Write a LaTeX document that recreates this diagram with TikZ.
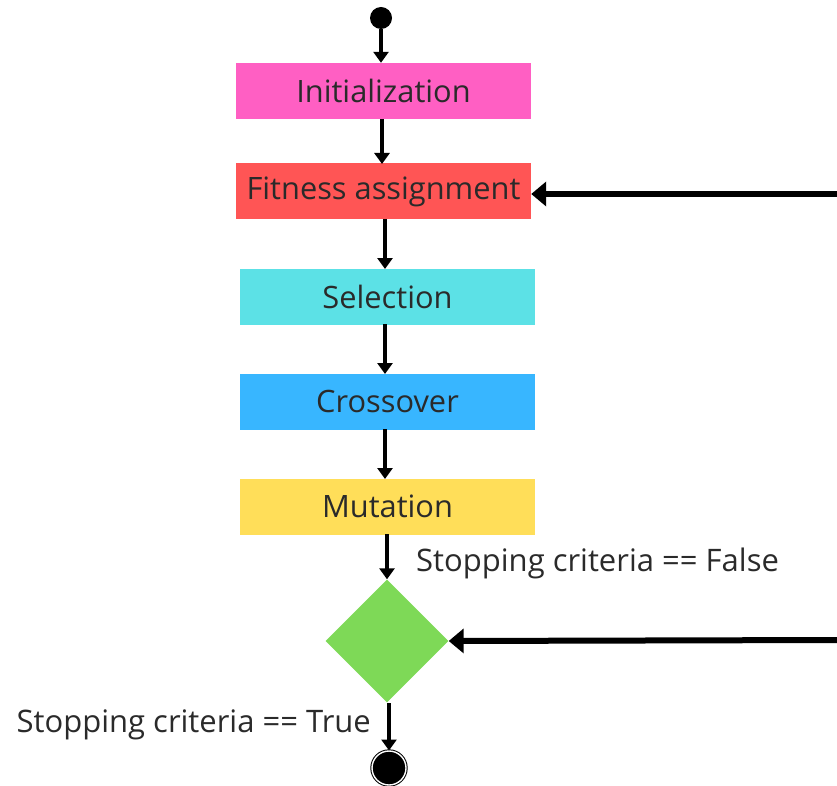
\documentclass[tikz,border=0pt]{standalone}
\usepackage{fontspec}
\setmainfont{Open Sans}
\usetikzlibrary{shapes.geometric,arrows.meta}
\definecolor{cinit}{HTML}{FF5FC3}
\definecolor{cfit}{HTML}{FF5555}
\definecolor{csel}{HTML}{5CE1E6}
\definecolor{ccross}{HTML}{38B6FF}
\definecolor{cmut}{HTML}{FFDE59}
\definecolor{cdec}{HTML}{7ED957}
\definecolor{ctext}{HTML}{2A2A2A}
\begin{document}
\begin{tikzpicture}[x=1pt,y=-1pt,
  stepbox/.style={rectangle,minimum width=295pt,minimum height=56pt,inner sep=0pt,font=\fontsize{30.8}{34}\selectfont,text=ctext},
  arr/.style={line width=3.2pt,-{Triangle[length=11pt,width=15pt]}},
  bigarr/.style={line width=6pt,-{Triangle[length=15pt,width=24pt]}},
  lbl/.style={font=\fontsize{31}{34}\selectfont,text=ctext,inner sep=0pt}]
\useasboundingbox (0,0) rectangle (837,786);
\node[circle,fill=black,minimum size=22pt,inner sep=0pt] (start) at (381,18) {};
\node[stepbox,fill=cinit] (init) at (383.5,91) {Initialization};
\node[stepbox,fill=cfit] (fit) at (383.5,191.5) {Fitness assignment};
\node[stepbox,fill=csel] (sel) at (387.5,296.5) {Selection};
\node[stepbox,fill=ccross] (cross) at (387.5,401.5) {Crossover};
\node[stepbox,fill=cmut] (mut) at (387.5,506.5) {Mutation};
\node[diamond,fill=cdec,minimum width=123pt,minimum height=123pt,inner sep=0pt] (dec) at (387,641) {};
\node[circle,fill=black,draw=black,line width=1pt,minimum size=34pt,inner sep=0pt,double=white,double distance=1.4pt] (end) at (389,768) {};
\node[circle,fill=black,minimum size=26pt,inner sep=0pt] (endin) at (389,768) {};
\coordinate (r1) at (837,194);
\coordinate (r2) at (837,640);
\node[lbl,anchor=west] (lf) at (416,563) {Stopping criteria == False};
\node[lbl,anchor=east] (lt) at (371,725) {Stopping criteria == True};
\draw[arr] (start.south) -- (start.south |- init.north);
\draw[arr] (382,119) -- (382,164);
\draw[arr] (385,219) -- (385,269);
\draw[arr] (385,324) -- (385,374);
\draw[arr] (385,429) -- (385,479);
\draw[arr] (387,534) -- (dec.north);
\draw[arr] (389,703) -- (end.north);
\draw[bigarr] (r1) -- (fit.east |- r1);
\draw[bigarr] (r2) -- (dec.east);
\end{tikzpicture}
\end{document}
